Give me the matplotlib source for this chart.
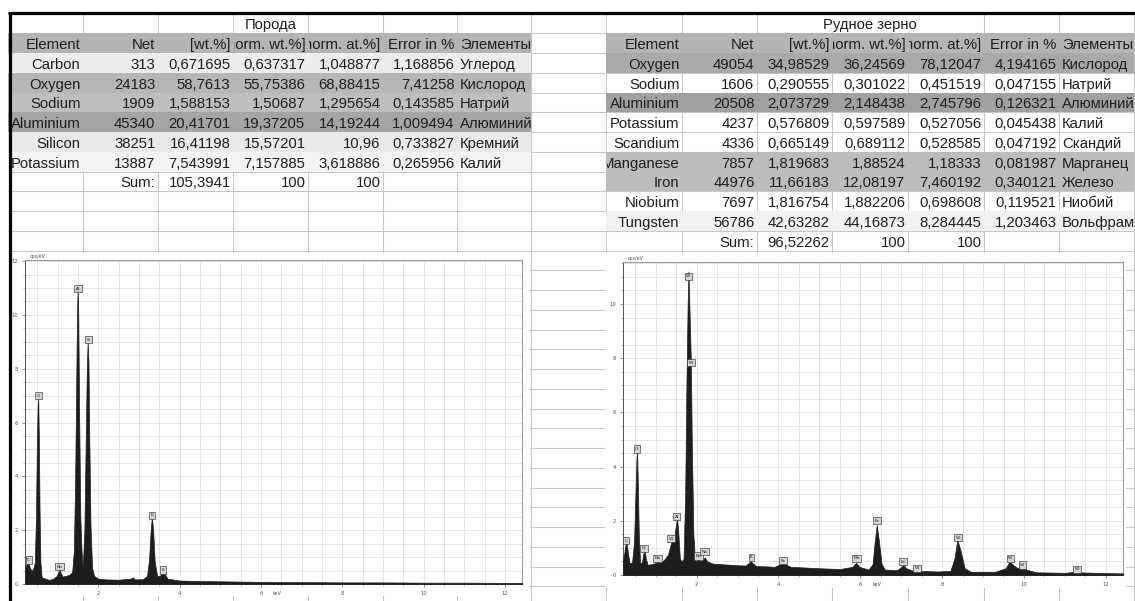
import matplotlib
matplotlib.use("Agg")
import matplotlib.pyplot as plt
from matplotlib.patches import Rectangle
from matplotlib.transforms import Bbox
from matplotlib.ticker import MultipleLocator

W, H = 1135, 601

# ------------------------------------------------------------------ data
rock_title = "Порода"
ore_title = "Рудное зерно"
header = ["Element", "Net", "[wt.%]", "[norm. wt.%]", "[norm. at.%]", "Error in %", "Элементы"]

rock_elements = ["Carbon", "Oxygen", "Sodium", "Aluminium", "Silicon", "Potassium"]
rock_net = ["313", "24183", "1909", "45340", "38251", "13887"]
rock_wt = ["0,671695", "58,7613", "1,588153", "20,41701", "16,41198", "7,543991"]
rock_norm_wt = ["0,637317", "55,75386", "1,50687", "19,37205", "15,57201", "7,157885"]
rock_norm_at = ["1,048877", "68,88415", "1,295654", "14,19244", "10,96", "3,618886"]
rock_err = ["1,168856", "7,41258", "0,143585", "1,009494", "0,733827", "0,265956"]
rock_ru = ["Углерод", "Кислород", "Натрий", "Алюминий", "Кремний", "Калий"]
rock_sum = ["Sum:", "105,3941", "100", "100"]

ore_elements = ["Oxygen", "Sodium", "Aluminium", "Potassium", "Scandium",
                "Manganese", "Iron", "Niobium", "Tungsten"]
ore_net = ["49054", "1606", "20508", "4237", "4336", "7857", "44976", "7697", "56786"]
ore_wt = ["34,98529", "0,290555", "2,073729", "0,576809", "0,665149",
          "1,819683", "11,66183", "1,816754", "42,63282"]
ore_norm_wt = ["36,24569", "0,301022", "2,148438", "0,597589", "0,689112",
               "1,88524", "12,08197", "1,882206", "44,16873"]
ore_norm_at = ["78,12047", "0,451519", "2,745796", "0,527056", "0,528585",
               "1,18333", "7,460192", "0,698608", "8,284445"]
ore_err = ["4,194165", "0,047155", "0,126321", "0,045438", "0,047192",
           "0,081987", "0,340121", "0,119521", "1,203463"]
ore_ru = ["Кислород", "Натрий", "Алюминий", "Калий", "Скандий",
          "Марганец", "Железо", "Ниобий", "Вольфрам"]
ore_sum = ["Sum:", "96,52262", "100", "100"]

# spectrum of the rock (keV, cps/eV)
rock_energy = [0.20, 0.24, 0.28, 0.32, 0.36, 0.40, 0.44, 0.47, 0.49, 0.51, 0.525, 0.54,
               0.56, 0.58, 0.61, 0.70, 0.80, 0.90, 0.98, 1.02, 1.05, 1.08, 1.12, 1.20,
               1.30, 1.36, 1.40, 1.43, 1.46, 1.48, 1.495, 1.51, 1.53, 1.56, 1.59, 1.62,
               1.66, 1.69, 1.72, 1.74, 1.76, 1.78, 1.81, 1.85, 1.90, 2.00, 2.20, 2.50,
               2.80, 2.85, 2.90, 3.10, 3.20, 3.25, 3.29, 3.32, 3.35, 3.39, 3.45, 3.52,
               3.56, 3.59, 3.63, 3.70, 4.00, 4.50, 5.00, 6.00, 7.00, 8.00, 9.00, 10.0,
               11.0, 12.42]
rock_counts = [0.60, 0.75, 0.80, 0.60, 0.50, 0.55, 0.80, 2.5, 5.0, 6.6, 6.9, 5.5,
               2.5, 0.8, 0.25, 0.20, 0.15, 0.20, 0.30, 0.45, 0.55, 0.40, 0.28, 0.30,
               0.35, 0.45, 1.2, 3.5, 7.5, 10.2, 10.95, 10.0, 6.5, 2.5, 1.2, 0.6,
               2.0, 5.0, 8.0, 9.0, 8.3, 5.5, 2.2, 0.6, 0.30, 0.20, 0.17, 0.16,
               0.20, 0.25, 0.17, 0.18, 0.30, 0.90, 2.0, 2.5, 2.0, 0.8, 0.30, 0.30,
               0.45, 0.50, 0.40, 0.20, 0.13, 0.11, 0.10, 0.08, 0.07, 0.06, 0.06, 0.05,
               0.05, 0.04]
rock_peak_names = ["C", "O", "Na", "Al", "Si", "K", "K"]
rock_peak_energy = [0.29, 0.53, 1.05, 1.50, 1.76, 3.32, 3.59]
rock_peak_level = [0.89, 7.0, 0.64, 10.97, 9.07, 2.55, 0.52]

# spectrum of the ore grain (keV, cps/eV)
ore_energy = [0.20, 0.24, 0.28, 0.32, 0.36, 0.42, 0.47, 0.50, 0.53, 0.545, 0.56, 0.59,
              0.62, 0.66, 0.70, 0.73, 0.76, 0.80, 0.90, 1.00, 1.05, 1.10, 1.20, 1.30,
              1.36, 1.40, 1.44, 1.48, 1.52, 1.55, 1.59, 1.63, 1.68, 1.72, 1.75, 1.78,
              1.80, 1.83, 1.86, 1.88, 1.92, 1.96, 2.00, 2.04, 2.08, 2.14, 2.20, 2.26,
              2.40, 2.60, 2.80, 3.00, 3.20, 3.28, 3.32, 3.36, 3.45, 3.70, 3.90, 4.05,
              4.10, 4.16, 4.30, 4.60, 5.00, 5.50, 5.80, 5.90, 5.98, 6.20, 6.30, 6.35,
              6.40, 6.45, 6.52, 6.60, 6.90, 7.00, 7.06, 7.12, 7.30, 7.39, 7.45, 7.90,
              8.20, 8.30, 8.37, 8.45, 8.55, 8.70, 9.30, 9.55, 9.65, 9.75, 9.85, 9.95,
              10.05, 10.30, 11.00, 11.25, 11.32, 12.00, 12.42]
ore_counts = [0.50, 0.90, 1.30, 0.80, 0.45, 0.45, 1.2, 2.8, 4.3, 4.55, 3.5, 1.2,
              0.45, 0.45, 0.80, 0.88, 0.60, 0.38, 0.40, 0.45, 0.50, 0.45, 0.55, 0.75,
              1.10, 1.30, 1.20, 1.70, 2.10, 1.60, 0.60, 0.50, 0.60, 3.0, 7.0, 10.0,
              11.2, 9.5, 7.8, 5.0, 1.5, 0.55, 0.50, 0.65, 0.50, 0.55, 0.65, 0.50,
              0.42, 0.40, 0.38, 0.36, 0.35, 0.45, 0.52, 0.45, 0.33, 0.32, 0.30, 0.40,
              0.50, 0.40, 0.30, 0.28, 0.25, 0.22, 0.30, 0.45, 0.30, 0.20, 0.40, 1.20,
              1.85, 1.30, 0.40, 0.20, 0.18, 0.30, 0.37, 0.25, 0.15, 0.20, 0.15, 0.13,
              0.15, 0.60, 1.30, 0.90, 0.25, 0.12, 0.12, 0.25, 0.50, 0.35, 0.25, 0.33,
              0.20, 0.10, 0.08, 0.12, 0.10, 0.07, 0.06]
ore_peak_names = ["C", "O", "Fe", "Na", "W", "Al", "W", "W", "Nb", "Nb", "K", "Sc",
                  "Mn", "Fe", "Fe", "W", "W", "W", "W", "W"]
ore_peak_energy = [0.28, 0.54, 0.72, 1.04, 1.37, 1.51, 1.80, 1.86, 2.04, 2.20, 3.34, 4.11,
                   5.91, 6.41, 7.05, 7.39, 8.39, 9.67, 9.96, 11.29]
ore_peak_level = [1.27, 4.65, 0.98, 0.61, 1.34, 2.15, 11.03, 7.83, 0.70, 0.86, 0.65, 0.52,
                  0.61, 2.0, 0.49, 0.25, 1.37, 0.61, 0.37, 0.21]

# ------------------------------------------------------------------ layout / style
FONT = "Liberation Sans"
FS = 10.7
TXT = "#1e1e1e"
GRID = "#c6c6c6"
cols = [8, 83, 158, 233, 308, 383, 457, 531, 606, 682, 757, 832, 908, 984, 1059, 1134]
rows = [13] + [33.4 + 19.75 * k for k in range(30)]
HEAD_FILL = "#b4b4b4"
rock_fill = ["#ececec", "#b6b6b6", "#bebebe", "#a5a5a5", "#e9e9e9", "#f3f3f3"]
ore_fill = ["#a9a9a9", None, "#a0a0a0", None, None, "#bcbcbc", "#bcbcbc", None, "#f1f1f1"]

fig = plt.figure(figsize=(W / 100, H / 100), dpi=100)
fig.patch.set_facecolor("white")
bg = fig.add_axes([0, 0, 1, 1])
bg.set_xlim(0, W)
bg.set_ylim(H, 0)
bg.axis("off")

# spreadsheet gridlines
bg.hlines(rows[1:], cols[0], W, color=GRID, lw=0.75, zorder=1)
bg.vlines(cols[1:], rows[0], H, color=GRID, lw=0.75, zorder=1)


def cell_text(col, row, s, ha="right", clip=False):
    x0, x1 = cols[col], cols[col + 1]
    y = rows[row + 1] - 4.0
    x = x1 - 2.5 if ha == "right" else (x0 + 3 if ha == "left" else (x0 + x1) / 2)
    t = bg.text(x, y, s, ha=ha, va="baseline", fontsize=FS, color=TXT,
                family=FONT, zorder=4)
    if clip:
        t.set_clip_on(True)
        t.set_clip_box(Bbox.from_extents(x0 + 0.5, 0, x1 - 0.5, H))
    return t


def fill_row(c0, row, color):
    bg.add_patch(Rectangle((cols[c0], rows[row]), cols[c0 + 7] - cols[c0],
                           rows[row + 1] - rows[row], facecolor=color,
                           edgecolor="none", zorder=2))


def table(c0, title, names, net, wt, nwt, nat, err, ru, fills, sums):
    # title, centred in the [norm. wt.%] column
    cell_text(c0 + 3, 0, title, ha="center")
    fill_row(c0, 1, HEAD_FILL)
    for j, h in enumerate(header):
        if j == 6:
            cell_text(c0 + j, 1, h, ha="left")
        else:
            cell_text(c0 + j, 1, h, ha="right", clip=j in (3, 4))
    for i in range(len(names)):
        r = i + 2
        if fills[i] is not None:
            fill_row(c0, r, fills[i])
        cell_text(c0, r, names[i], clip=True)
        cell_text(c0 + 1, r, net[i])
        cell_text(c0 + 2, r, wt[i])
        cell_text(c0 + 3, r, nwt[i])
        cell_text(c0 + 4, r, nat[i])
        cell_text(c0 + 5, r, err[i])
        cell_text(c0 + 6, r, ru[i], ha="left")
    r = len(names) + 2
    for j, s in enumerate(sums):
        cell_text(c0 + 1 + j, r, s)


table(0, rock_title, rock_elements, rock_net, rock_wt, rock_norm_wt, rock_norm_at,
      rock_err, rock_ru, rock_fill, rock_sum)
table(8, ore_title, ore_elements, ore_net, ore_wt, ore_norm_wt, ore_norm_at,
      ore_err, ore_ru, ore_fill, ore_sum)
# long title overflows into neighbouring empty cells
bg.add_patch(Rectangle((818, rows[0] + 1.5), 104, rows[1] - rows[0] - 2.5,
                       facecolor="white", edgecolor="none", zorder=2))

# pasted spectrum pictures (white areas)
bg.add_patch(Rectangle((12, 253), 518, 343, facecolor="white", edgecolor="none", zorder=3))
bg.add_patch(Rectangle((605, 253), 521, 335, facecolor="white", edgecolor="none", zorder=3))

# black sheet frame
bg.hlines(13.3, 8, W, color="black", lw=2.3, zorder=6)
bg.vlines(10.2, 12, H, color="black", lw=2.3, zorder=6)


def spectrum(rect, energy, counts, ymax, names, pe, pl):
    x0, y0, x1, y1 = rect
    ax = fig.add_axes([x0 / W, (H - y1) / H, (x1 - x0) / W, (y1 - y0) / H])
    ax.set_facecolor("white")
    ax.fill_between(energy, 0, counts, color="#1d1d1d", lw=0.5, zorder=3)
    ax.set_xlim(0.2, 12.42)
    ax.set_ylim(0, ymax)
    ax.xaxis.set_major_locator(MultipleLocator(2))
    ax.xaxis.set_minor_locator(MultipleLocator(0.5))
    ax.yaxis.set_major_locator(MultipleLocator(2))
    ax.yaxis.set_minor_locator(MultipleLocator(0.5))
    ax.grid(which="both", color="#e2e2e2", lw=0.6, zorder=0)
    ax.set_axisbelow(True)
    ax.tick_params(which="major", length=2.5, width=0.5, color="#666666",
                   labelsize=3.8, labelcolor="#555555", pad=2.5)
    ax.tick_params(which="minor", length=1.3, width=0.4, color="#888888")
    for side in ("left", "bottom"):
        ax.spines[side].set_color("#555555")
        ax.spines[side].set_linewidth(0.7)
    for side in ("top", "right"):
        ax.spines[side].set_color("#9a9a9a")
        ax.spines[side].set_linewidth(0.8)
    ax.text(0.01, 1.003, "cps/eV", transform=ax.transAxes, fontsize=3.4,
            color="#555555", va="bottom", ha="left")
    ax.text(6.3, -0.022, "keV", transform=ax.get_xaxis_transform(), fontsize=3.4,
            color="#555555", va="top", ha="left")
    for n, e, l in zip(names, pe, pl):
        ax.text(e, l, n, fontsize=3.2, color="#222222", ha="center", va="center",
                zorder=5, bbox=dict(boxstyle="square,pad=0.35", fc="#d4d4d4",
                                    ec="#333333", lw=0.45))
    return ax


spectrum((25, 260, 522, 584), rock_energy, rock_counts, 12.04,
         rock_peak_names, rock_peak_energy, rock_peak_level)
spectrum((623, 262, 1123, 575), ore_energy, ore_counts, 11.55,
         ore_peak_names, ore_peak_energy, ore_peak_level)

fig.savefig("out.png", dpi=100, facecolor="white")
